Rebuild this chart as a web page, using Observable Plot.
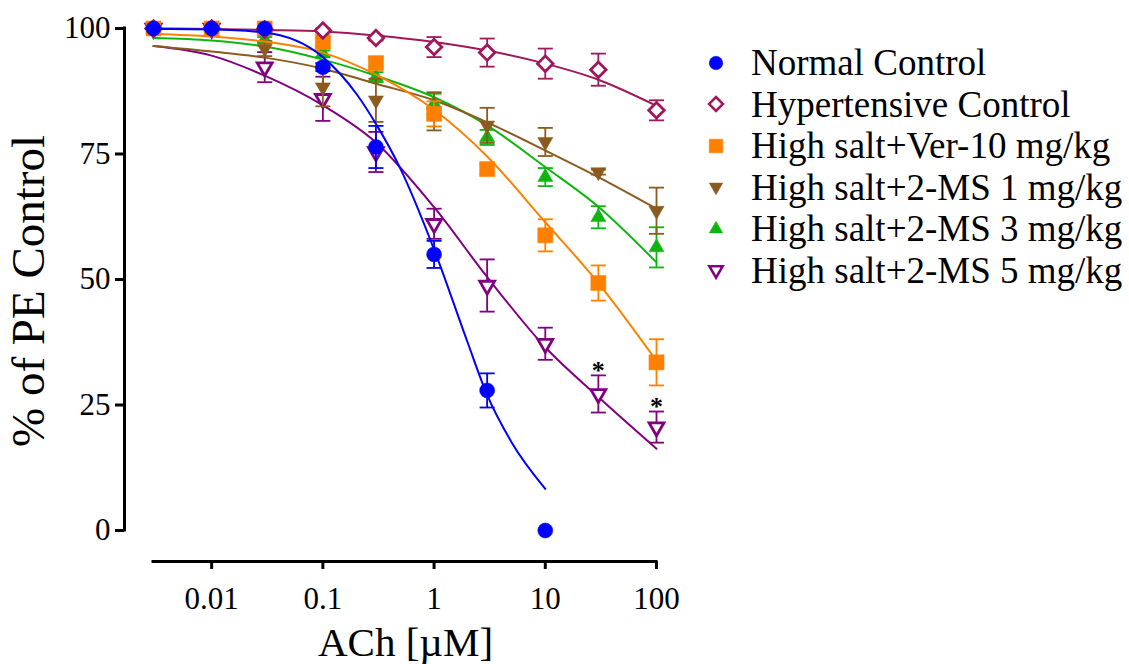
<!DOCTYPE html>
<html><head><meta charset="utf-8">
<script src="https://cdn.jsdelivr.net/npm/d3@7"></script>
<script src="https://cdn.jsdelivr.net/npm/@observablehq/plot@0.6"></script>
<style>
html,body{margin:0;padding:0;background:#fff;}
#wrap{position:relative;width:1129px;height:664px;overflow:hidden;font-family:"Liberation Serif","Times New Roman",serif;background:#fff;}
#chart{position:absolute;left:0;top:0;}
#legend{position:absolute;left:700px;top:42px;}
.row{display:flex;align-items:center;height:41.5px;font-size:37px;line-height:41.5px;white-space:nowrap;color:#000;}
.row svg{width:32px;height:32px;margin-right:19px;flex:none;overflow:visible;}
</style></head><body>
<div id="wrap"><div id="chart"></div><div id="legend"></div></div>
<script>
// ---- data ----
const seriesNames = ["Normal Control", "Hypertensive Control", "High salt+Ver-10 mg/kg",
  "High salt+2-MS 1 mg/kg", "High salt+2-MS 3 mg/kg", "High salt+2-MS 5 mg/kg"];
const seriesColors = ["#0000ff", "#a0185c", "#ff8000", "#8b5a1e", "#0fb50f", "#800080"];

const doses = [0.003, 0.01, 0.03, 0.1, 0.3, 1, 3, 10, 30, 100];
const normalDoses = [0.003, 0.01, 0.03, 0.1, 0.3, 1, 3, 10];

const normalMean = [100, 100, 100, 92.3, 76.4, 55.0, 27.9, 0];
const normalSem  = [0, 0, 0, 0.8, 4.2, 2.7, 3.4, 0];
const hyperMean  = [100, 100, 99.8, 99.6, 98.1, 96.3, 95.2, 93.0, 91.8, 83.7];
const hyperSem   = [0, 0, 0, 0.4, 0.5, 2.0, 2.8, 3.0, 3.2, 2.0];
const verMean    = [100, 100, 100, 97.3, 93.1, 83.0, 72.0, 58.8, 49.3, 33.5];
const verSem     = [0, 0, 0, 0.8, 1.0, 2.5, 1.0, 3.2, 3.5, 4.6];
const ms1Mean    = [100, 100, 96.0, 88.3, 85.7, 83.5, 80.7, 77.4, 71.4, 63.7];
const ms1Sem     = [0, 0, 1.5, 3.8, 4.3, 3.8, 3.5, 2.8, 0.5, 4.6];
const ms3Mean    = [100, 100, 97.8, 95.0, 90.3, 85.0, 78.3, 70.4, 62.4, 56.4];
const ms3Sem     = [0, 0, 0.5, 0.6, 1.0, 2.0, 1.5, 1.8, 2.2, 4.0];
const ms5Mean    = [100, 100, 92.3, 86.0, 75.4, 61.1, 48.8, 37.2, 27.2, 20.6];
const ms5Sem     = [0, 0, 3.0, 4.4, 4.0, 3.0, 5.2, 3.2, 3.7, 3.1];

// fitted curves
const normalFitDoses = [0.003, 0.01, 0.03, 0.1, 0.2, 0.3, 0.5, 1, 2, 3, 5, 10];
const normalFit      = [99.9, 99.8, 99.2, 94.3, 87, 81, 72, 56, 37.5, 27, 17.5, 8.3];
const fitDoses = [0.003, 0.01, 0.03, 0.1, 0.3, 1, 3, 10, 30, 100];
const hyperFit = [100, 99.9, 99.7, 99.4, 98.6, 97.3, 95.6, 93.0, 89.8, 84.6];
const verFit   = [98.9, 98.4, 97.4, 95.2, 90.8, 83.8, 74.5, 61.4, 49.3, 33.8];
const ms1Fit   = [96.5, 95.4, 94.2, 92.0, 89.0, 85.7, 81.3, 75.7, 70.4, 64.1];
const ms3Fit   = [98.1, 97.6, 96.4, 93.8, 90.6, 86.3, 80.7, 72.4, 64.5, 53.4];
const ms5Fit   = [96.5, 94.6, 90.6, 84.7, 77.3, 64.4, 50.5, 36.5, 26.6, 16.3];

const sigDoses  = [30, 100];
const sigLevels = [32.4, 25.2];

const xTicks = [0.01, 0.1, 1, 10, 100];
const yTicks = [0, 25, 50, 75, 100];
const xDomain = [0.003, 100];
const yDomain = [0, 100];

// ---- assembly ----
const seriesData = [
  {dx: normalDoses, m: normalMean, s: normalSem, fx: normalFitDoses, fy: normalFit},
  {dx: doses, m: hyperMean, s: hyperSem, fx: fitDoses, fy: hyperFit},
  {dx: doses, m: verMean, s: verSem, fx: fitDoses, fy: verFit},
  {dx: doses, m: ms1Mean, s: ms1Sem, fx: fitDoses, fy: ms1Fit},
  {dx: doses, m: ms3Mean, s: ms3Sem, fx: fitDoses, fy: ms3Fit},
  {dx: doses, m: ms5Mean, s: ms5Sem, fx: fitDoses, fy: ms5Fit}
];
const markerStyle = [
  {symbol: "circle", r: 7.5, filled: true},
  {symbol: "diamond2", r: 7.0, filled: false},
  {symbol: "square2", r: 9.6, filled: true},
  {symbol: "triangle2", r: 7.2, filled: true, rotate: 180},
  {symbol: "triangle2", r: 7.2, filled: true},
  {symbol: "triangle2", r: 7.1, filled: false, rotate: 180}
];
const capSymbol = {draw(ctx, size) { const w = Math.sqrt(size); ctx.moveTo(-w / 2, 0); ctx.lineTo(w / 2, 0); }};

const marks = [];
for (let i = seriesData.length - 1; i >= 0; i--) {
  const d = seriesData[i], color = seriesColors[i], ms = markerStyle[i];
  const pts = d.dx.map((x, j) => ({x, y: d.m[j], s: d.s[j]}));
  const errPts = pts.filter(p => p.s > 0);
  const caps = errPts.flatMap(p => [{x: p.x, y: p.y + p.s}, {x: p.x, y: p.y - p.s}]);
  const fit = d.fx.map((x, j) => ({x, y: d.fy[j]}));
  marks.push(Plot.ruleX(errPts, {x: "x", y1: p => p.y - p.s, y2: p => p.y + p.s, stroke: color, strokeWidth: 1.8}));
  marks.push(Plot.dot(caps, {x: "x", y: "y", symbol: capSymbol, r: 8.5, stroke: color, strokeWidth: 1.8, fill: "none"}));
  marks.push(Plot.line(fit, {x: "x", y: "y", stroke: color, strokeWidth: 2, curve: "monotone-x"}));
  marks.push(Plot.dot(pts, {x: "x", y: "y", symbol: ms.symbol, r: ms.r, rotate: ms.rotate || 0,
    fill: ms.filled ? color : "white", stroke: color, strokeWidth: ms.filled ? 0.5 : 2.8}));
}
marks.push(Plot.text(sigDoses.map((x, j) => ({x, y: sigLevels[j]})), {x: "x", y: "y", text: () => "*",
  fontSize: 26, fontWeight: "bold", fill: "#000", dy: 3}));

const chart = Plot.plot({
  width: 700, height: 664,
  marginLeft: 124, marginRight: 44, marginTop: 28, marginBottom: 103,
  x: {type: "log", domain: xDomain, range: [153, 656]},
  y: {domain: yDomain, range: [530, 28]},
  style: {fontFamily: '"Liberation Serif","Times New Roman",serif', fontSize: "31px", color: "#000", background: "#fff", overflow: "visible"},
  marks: [
    Plot.ruleX([xDomain[0]], {y1: yDomain[0], y2: yDomain[1], dx: -29, strokeWidth: 3, strokeLinecap: "square"}),
    Plot.ruleY([yDomain[0]], {x1: xDomain[0], x2: xDomain[1], dy: 31, strokeWidth: 3, strokeLinecap: "square"}),
    Plot.axisY({ticks: yTicks, tickSize: 9, tickPadding: 5, strokeWidth: 3, fontSize: 31, label: null}),
    Plot.axisX({ticks: xTicks, tickFormat: d => String(d), tickSize: 8, tickPadding: 17, strokeWidth: 3, fontSize: 31, label: null}),
    Plot.text(["% of PE Control"], {frameAnchor: "left", textAnchor: "middle", rotate: -90, dx: -96, dy: -4, fontSize: 47, lineAnchor: "middle", text: d => d}),
    Plot.text(["ACh [\u00B5M]"], {frameAnchor: "bottom", textAnchor: "middle", dx: 15, dy: 65, fontSize: 41, lineAnchor: "top", text: d => d}),
    ...marks
  ]
});
document.getElementById("chart").appendChild(chart);

// ---- legend ----
const d3Sym = {circle: d3.symbolCircle, diamond2: d3.symbolDiamond2, square2: d3.symbolSquare2, triangle2: d3.symbolTriangle2};
const legend = d3.select("#legend");
seriesNames.forEach((name, i) => {
  const ms = markerStyle[i], color = seriesColors[i];
  const row = legend.append("div").attr("class", "row");
  const svg = row.append("svg").attr("viewBox", "-16 -16 32 32");
  const r = ms.r * 0.9;
  svg.append("path")
    .attr("d", d3.symbol(d3Sym[ms.symbol], Math.PI * r * r)())
    .attr("transform", `rotate(${ms.rotate || 0})`)
    .attr("fill", ms.filled ? color : "white")
    .attr("stroke", color)
    .attr("stroke-width", ms.filled ? 0.5 : 2.5);
  row.append("span").text(name);
});
</script>
</body></html>
